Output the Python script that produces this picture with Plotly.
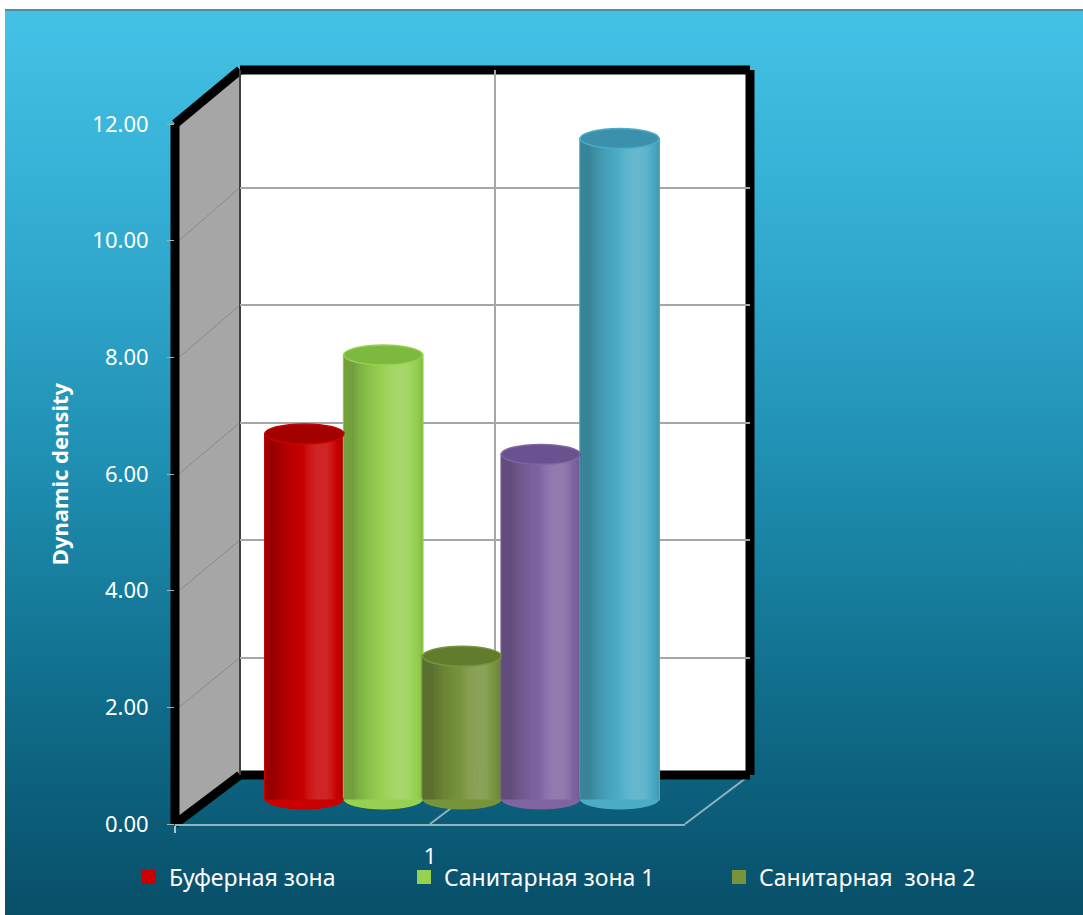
import base64
import math

import plotly.graph_objects as go

# ---- data -------------------------------------------------------------
category = ["1"]
series_names = ["Буферная зона", "Санитарная зона 1", "Санитарная  зона 2", "Ряд 4", "Ряд 5"]
series_values = [6.25, 7.6, 2.45, 5.9, 11.3]
series_colors = ["#c80000", "#96d150", "#77933c", "#8064a2", "#4bacc6"]
top_colors = ["#a30000", "#7db83f", "#627c2e", "#6a5190", "#3b91ab"]
# legend slot for each series (None = not listed)
legend_slots = ["legend", "legend2", "legend3", None, None]

y_ticks = [0, 2, 4, 6, 8, 10, 12]
y_ticktext = [f"{t:.2f}" for t in y_ticks]
y_title = "Dynamic density"

# ---- canvas geometry (pixels) ----------------------------------------
W, H = 1083, 915


def fx(px):
    return px / W


def fy(py):
    return 1 - py / H


FRONT_L, FRONT_R = 175, 685          # front floor edge
FRONT_TOP, FRONT_BOT = 124, 824      # front value axis (12 .. 0)
BACK_L, BACK_R = 240, 750            # back wall
BACK_TOP, BACK_BOT = 70, 775
BAR_L, BAR_R = 207, 717              # bar subplot domain
BAR_ZERO, BAR_PX_PER_UNIT = 799.5, 58.5
BAR_RANGE = (-0.45, 12.5)
BARGAP = 0.2275
TOP_WHITE, LEFT_WHITE = 10, 5
LEGEND_X = [129, 404, 719]
LEGEND_Y = 877

font_family = "Noto Sans, Open Sans, sans-serif"

# ---- background gradient as an svg image --------------------------------
grad_svg = (
    '<svg xmlns="http://www.w3.org/2000/svg" width="100" height="100" '
    'viewBox="0 0 100 100" preserveAspectRatio="none">'
    '<defs><linearGradient id="g" x1="0" y1="0" x2="0" y2="1">'
    '<stop offset="0" stop-color="#44c2e6"/>'
    '<stop offset="0.25" stop-color="#33abd1"/>'
    '<stop offset="0.5" stop-color="#1f8fb2"/>'
    '<stop offset="0.75" stop-color="#106e8c"/>'
    '<stop offset="1" stop-color="#084f69"/>'
    '</linearGradient></defs>'
    '<rect x="0" y="0" width="100" height="100" fill="url(#g)"/></svg>'
)
grad_src = "data:image/svg+xml;base64," + base64.b64encode(grad_svg.encode()).decode()

shapes = []
shapes.append(dict(type="line", xref="paper", yref="paper", layer="below",
                   x0=fx(LEFT_WHITE), x1=1, y0=fy(TOP_WHITE), y1=fy(TOP_WHITE),
                   line=dict(color="#4d8fa3", width=2)))

# ---- side wall, back wall ---------------------------------------------
shapes.append(dict(type="path", xref="paper", yref="paper", layer="below",
                   path="M %f %f L %f %f L %f %f L %f %f Z" % (
                       fx(FRONT_L), fy(FRONT_TOP), fx(BACK_L), fy(BACK_TOP),
                       fx(BACK_L), fy(BACK_BOT), fx(FRONT_L), fy(FRONT_BOT)),
                   fillcolor="#a6a6a6", line=dict(width=0)))
shapes.append(dict(type="rect", xref="paper", yref="paper", layer="below",
                   x0=fx(BACK_L), x1=fx(BACK_R), y0=fy(BACK_BOT), y1=fy(BACK_TOP),
                   fillcolor="white", line=dict(width=0)))


def y_front(v):
    return FRONT_BOT - (FRONT_BOT - FRONT_TOP) * v / 12


def y_back(v):
    return BACK_BOT - (BACK_BOT - BACK_TOP) * v / 12


# gridlines running across the side wall
for v in y_ticks[1:-1]:
    shapes.append(dict(type="line", xref="paper", yref="paper", layer="below",
                       x0=fx(FRONT_L + 4), y0=fy(y_front(v)), x1=fx(BACK_L), y1=fy(y_back(v)),
                       line=dict(color="#8a8a8a", width=1)))

# floor edges and the category line on the floor
floor_line = dict(color="#8fb3bf", width=2)
shapes.append(dict(type="line", xref="paper", yref="paper", layer="below",
                   x0=fx(FRONT_R), y0=fy(FRONT_BOT), x1=fx(BACK_R), y1=fy(BACK_BOT),
                   line=floor_line))
mid_front = (FRONT_L + FRONT_R) / 2
mid_back = (BACK_L + BACK_R) / 2
shapes.append(dict(type="line", xref="paper", yref="paper", layer="below",
                   x0=fx(mid_front), y0=fy(FRONT_BOT), x1=fx(mid_back), y1=fy(BACK_BOT),
                   line=floor_line))

# thick black frame of the walls
frame = dict(color="black", width=9)
edges = [((BACK_L, BACK_TOP), (BACK_R, BACK_TOP)),
         ((BACK_R, BACK_TOP), (BACK_R, BACK_BOT)),
         ((BACK_L, BACK_BOT), (BACK_R, BACK_BOT)),
         ((BACK_L, BACK_TOP), (FRONT_L, FRONT_TOP)),
         ((FRONT_L, FRONT_TOP), (FRONT_L, FRONT_BOT)),
         ((FRONT_L, FRONT_BOT), (BACK_L, BACK_BOT))]
for (ax, ay), (bx, by) in edges:
    shapes.append(dict(type="line", xref="paper", yref="paper", layer="below",
                       x0=fx(ax), y0=fy(ay), x1=fx(bx), y1=fy(by), line=frame))
shapes.append(dict(type="line", xref="paper", yref="paper", layer="below",
                   x0=fx(BACK_L), y0=fy(BACK_TOP), x1=fx(BACK_L), y1=fy(BACK_BOT),
                   line=dict(color="#404040", width=2)))

# ---- cylinder shading on top of each bar -------------------------------
n = len(series_values)
bar_w = (1 - BARGAP) / n
n_strips = 30
light_angle = 0.45


def strip_shade(f):
    """Shading of a vertical strip of a lit cylinder, f in [0, 1] left to right."""
    theta = math.asin(max(-1.0, min(1.0, 2 * f - 1)))
    inten = math.cos(theta - light_angle)
    if inten >= 0.88:
        return "white", min(0.15, (inten - 0.88) * 1.3)
    return "black", min(0.24, (0.88 - inten) * 0.38)


ell_half = 0.17
for i, (v, col, tcol) in enumerate(zip(series_values, series_colors, top_colors)):
    x0 = -0.5 + BARGAP / 2 + i * bar_w
    x1 = x0 + bar_w
    # rounded base
    shapes.append(dict(type="circle", xref="x3", yref="y3", layer="above",
                       x0=x0, x1=x1, y0=-ell_half, y1=ell_half,
                       fillcolor=col, line=dict(width=0)))
    for k in range(n_strips):
        f0, f1 = k / n_strips, (k + 1) / n_strips
        c, op = strip_shade((f0 + f1) / 2)
        if op <= 0.005:
            continue
        shapes.append(dict(type="rect", xref="x3", yref="y3", layer="above",
                           x0=x0 + f0 * bar_w, x1=x0 + f1 * bar_w, y0=0, y1=v,
                           fillcolor=c, opacity=op, line=dict(width=0)))
    # elliptical top
    shapes.append(dict(type="circle", xref="x3", yref="y3", layer="above",
                       x0=x0, x1=x1, y0=v - ell_half, y1=v + ell_half,
                       fillcolor=tcol, line=dict(color=col, width=1.5)))

# ---- traces -------------------------------------------------------------
fig = go.Figure()

# anchors for the front axes and the back-wall grid (drawn first, beneath the bars)
fig.add_trace(go.Scatter(x=category, y=[0], mode="markers", marker=dict(opacity=0),
                         xaxis="x", yaxis="y", showlegend=False, hoverinfo="skip"))
fig.add_trace(go.Scatter(x=[1], y=[0], mode="markers", marker=dict(opacity=0),
                         xaxis="x2", yaxis="y2", showlegend=False, hoverinfo="skip"))

for name, v, col, slot in zip(series_names, series_values, series_colors, legend_slots):
    fig.add_trace(go.Bar(x=category, y=[v], name=name,
                         marker=dict(color=col, line=dict(color=col, width=2)),
                         xaxis="x3", yaxis="y3", showlegend=slot is not None,
                         legend=slot or "legend", hoverinfo="skip"))

legend_style = dict(orientation="h", xanchor="left", y=fy(LEGEND_Y), yanchor="middle",
                    bgcolor="rgba(0,0,0,0)", font=dict(size=23, color="white"),
                    itemwidth=30)

fig.update_layout(
    width=W, height=H,
    margin=dict(l=0, r=0, t=0, b=0, autoexpand=False),
    paper_bgcolor="white",
    plot_bgcolor="rgba(0,0,0,0)",
    barmode="group", bargap=BARGAP, bargroupgap=0,
    font=dict(family=font_family, color="white", size=20),
    hovermode=False,
    shapes=shapes,
    images=[dict(source=grad_src, xref="paper", yref="paper", layer="below",
                 x=fx(LEFT_WHITE), y=fy(TOP_WHITE), sizex=1 - fx(LEFT_WHITE),
                 sizey=fy(TOP_WHITE), xanchor="left", yanchor="top", sizing="stretch")],
    # front floor edge with the category label
    xaxis=dict(domain=[fx(FRONT_L), fx(FRONT_R)], type="category", range=[-0.5, 0.5],
               anchor="y", tickson="boundaries", ticks="outside", ticklen=7,
               tickcolor="#a9c4cc", tickwidth=2, showline=True, linecolor="#8fb3bf",
               linewidth=2, showgrid=False, zeroline=False, ticklabelstandoff=12,
               tickfont=dict(size=22, color="white")),
    # front value axis
    yaxis=dict(domain=[fy(FRONT_BOT), fy(FRONT_TOP)], range=[0, 12], anchor="x",
               tickvals=y_ticks, ticktext=y_ticktext, ticks="outside", ticklen=7,
               tickcolor="#9fb4bb", showline=False, showgrid=False, zeroline=False,
               ticklabelstandoff=14, tickfont=dict(size=22, color="white"),
               title=dict(text="<b>" + y_title + "</b>", standoff=17,
                          font=dict(size=22, color="white"))),
    # back wall gridlines
    xaxis2=dict(domain=[fx(BACK_L), fx(BACK_R)], range=[0, 2], anchor="y2",
                tickvals=[1], showticklabels=False, ticks="", showgrid=True,
                gridcolor="#a6a6a6", gridwidth=1.5, zeroline=False, showline=False),
    yaxis2=dict(domain=[fy(BACK_BOT), fy(BACK_TOP)], range=[0, 12], anchor="x2",
                tickvals=y_ticks, showticklabels=False, ticks="", showgrid=True,
                gridcolor="#a6a6a6", gridwidth=1.5, zeroline=False, showline=False),
    # bars
    xaxis3=dict(domain=[fx(BAR_L), fx(BAR_R)], type="category", range=[-0.5, 0.5],
                anchor="y3", visible=False),
    yaxis3=dict(domain=[fy(BAR_ZERO - BAR_PX_PER_UNIT * BAR_RANGE[0]),
                        fy(BAR_ZERO - BAR_PX_PER_UNIT * BAR_RANGE[1])],
                range=list(BAR_RANGE), anchor="x3", visible=False),
    legend=dict(x=fx(LEGEND_X[0]), **legend_style),
    legend2=dict(x=fx(LEGEND_X[1]), **legend_style),
    legend3=dict(x=fx(LEGEND_X[2]), **legend_style),
)

fig.write_html("out.html")
